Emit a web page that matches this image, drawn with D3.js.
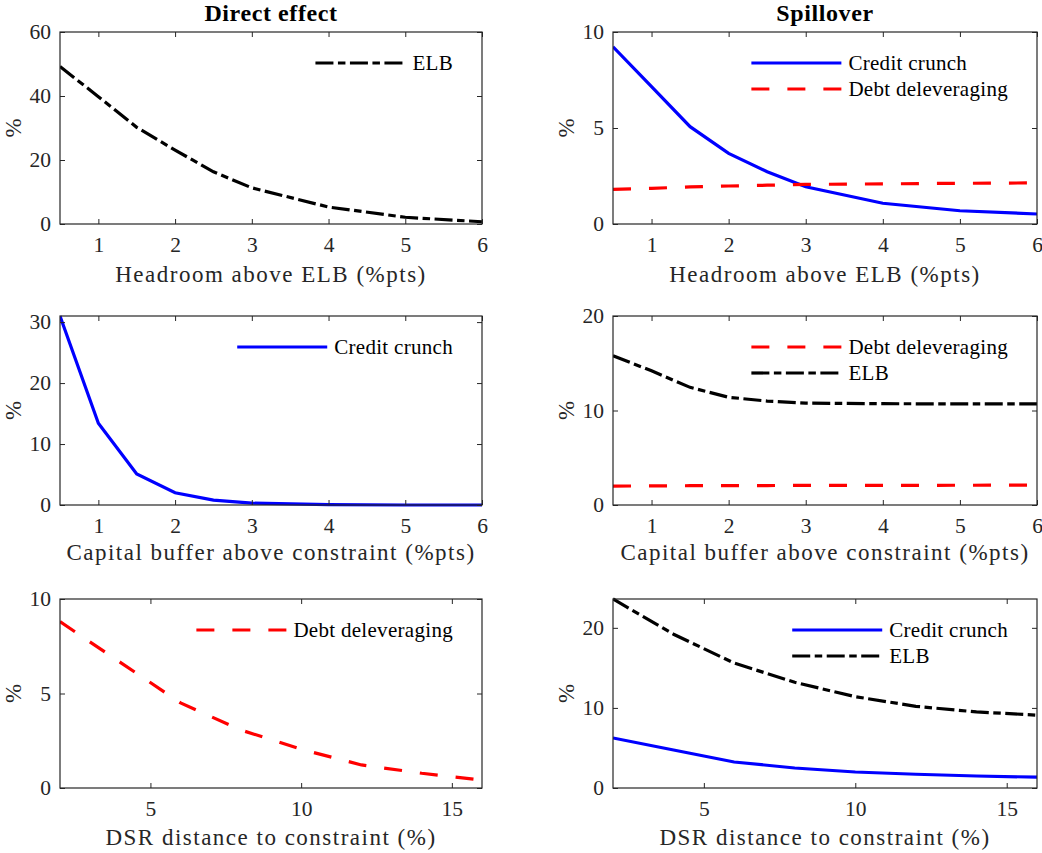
<!DOCTYPE html>
<html>
<head>
<meta charset="UTF-8"/>
<style>
  body { margin: 0; background: #fff; }
</style>
</head>
<body>
<script src="https://cdn.jsdelivr.net/npm/d3@7/dist/d3.min.js"></script>
<script>
// x grids
var headroom = [0.5, 1, 1.5, 2, 2.5, 3, 4, 5, 6];
var buffer   = [0.5, 1, 1.5, 2, 2.5, 3, 4, 5, 6];
var dsr      = [2, 4, 6, 8, 10, 12, 14, 16];

// row 1: headroom above ELB
var elbDirect      = [49.2, 39.8, 30.2, 23.1, 16.3, 11.3, 5.3, 2.1, 0.7];
var crunchSpillH   = [9.23, 7.15, 5.07, 3.68, 2.72, 1.94, 1.08, 0.69, 0.52];
var delevSpillH    = [1.80, 1.86, 1.93, 1.98, 2.02, 2.06, 2.09, 2.12, 2.14];

// row 2: capital buffer
var crunchDirect   = [31, 13.4, 5.1, 2.0, 0.8, 0.3, 0.05, 0.0, 0.0];
var delevSpillB    = [2.0, 2.02, 2.04, 2.05, 2.06, 2.07, 2.08, 2.09, 2.1];
var elbSpillB      = [15.8, 14.2, 12.45, 11.4, 11.0, 10.78, 10.72, 10.7, 10.7];

// row 3: DSR distance
var delevDirect    = [8.8, 6.65, 4.5, 3.07, 2.05, 1.22, 0.78, 0.42];
var elbSpillD      = [23.6, 19.2, 15.6, 13.2, 11.4, 10.2, 9.5, 9.1];
var crunchSpillD   = [6.25, 4.75, 3.25, 2.5, 2.0, 1.72, 1.5, 1.35];

var colTitles = ["Direct effect", "Spillover"];
var xLabels = ["Headroom above ELB (%pts)", "Capital buffer above constraint (%pts)", "DSR distance to constraint (%)"];

var styles = {
  "Credit crunch":     { color: "#0000ff", dash: null },
  "Debt deleveraging": { color: "#ff0000", dash: "18,18" },
  "ELB":               { color: "#000000", dash: "18,4.5,7.5,4.5" }
};

var panels = [
  { col: 0, row: 0, x: headroom, xd: [0.5, 6], yd: [0, 60], yt: [0, 20, 40, 60], xt: [1,2,3,4,5,6],
    series: [["ELB", elbDirect]] },
  { col: 1, row: 0, x: headroom, xd: [0.5, 6], yd: [0, 10], yt: [0, 5, 10], xt: [1,2,3,4,5,6],
    series: [["Credit crunch", crunchSpillH], ["Debt deleveraging", delevSpillH]] },
  { col: 0, row: 1, x: buffer, xd: [0.5, 6], yd: [0, 31], yt: [0, 10, 20, 30], xt: [1,2,3,4,5,6],
    series: [["Credit crunch", crunchDirect]] },
  { col: 1, row: 1, x: buffer, xd: [0.5, 6], yd: [0, 20], yt: [0, 10, 20], xt: [1,2,3,4,5,6],
    series: [["Debt deleveraging", delevSpillB], ["ELB", elbSpillB]] },
  { col: 0, row: 2, x: dsr, xd: [2, 16], yd: [0, 10], yt: [0, 5, 10], xt: [5, 10, 15],
    series: [["Debt deleveraging", delevDirect]] },
  { col: 1, row: 2, x: dsr, xd: [2, 16], yd: [0, 23.6], yt: [0, 10, 20], xt: [5, 10, 15],
    series: [["Credit crunch", crunchSpillD], ["ELB", elbSpillD]] }
];

var colLeft = [60, 613], colRight = [482, 1037];
var rowTop = [32, 316, 599], rowBottom = [224, 505, 788];
var labelGap = [58, 55, 57];
var FONT = "'Liberation Serif', 'Times New Roman', serif";
var INK = "#262626";

var svg = d3.select("body").append("svg")
  .attr("width", 1042)
  .attr("height", 853)
  .style("font-family", FONT);

colTitles.forEach(function(t, i) {
  svg.append("text")
    .attr("x", (colLeft[i] + colRight[i]) / 2)
    .attr("y", 21)
    .attr("text-anchor", "middle")
    .style("font-family", FONT)
    .style("font-size", "24px")
    .style("letter-spacing", "0.6px")
    .style("font-weight", "bold")
    .style("fill", "#000")
    .text(t);
});

panels.forEach(function(p) {
  var L = colLeft[p.col], R = colRight[p.col], T = rowTop[p.row], B = rowBottom[p.row];
  var x = d3.scaleLinear().domain(p.xd).range([L, R]);
  var y = d3.scaleLinear().domain(p.yd).range([B, T]);
  var g = svg.append("g");

  var clipId = "clip" + p.col + p.row;
  svg.append("clipPath").attr("id", clipId)
    .append("rect").attr("x", L).attr("y", T - 2).attr("width", R - L + 2).attr("height", B - T + 4);

  var line = d3.line()
    .x(function(d, i) { return x(p.x[i]); })
    .y(function(d) { return y(d); });

  p.series.forEach(function(s) {
    var st = styles[s[0]];
    g.append("path")
      .attr("clip-path", "url(#" + clipId + ")")
      .attr("d", line(s[1]))
      .attr("fill", "none")
      .attr("stroke", st.color)
      .attr("stroke-width", 3.2)
      .attr("stroke-dasharray", st.dash);
  });

  // inward ticks on all four sides, like a boxed matlab axis
  var tick = 5, fmt = d3.format("d");
  g.append("g").attr("transform", "translate(0," + B + ")")
    .call(d3.axisBottom(x).tickValues(p.xt).tickFormat(fmt).tickSize(-tick).tickPadding(13).tickSizeOuter(0));
  g.append("g").attr("transform", "translate(0," + T + ")")
    .call(d3.axisTop(x).tickValues(p.xt).tickSize(-tick).tickFormat("").tickSizeOuter(0));
  g.append("g").attr("transform", "translate(" + L + ",0)")
    .call(d3.axisLeft(y).tickValues(p.yt).tickFormat(fmt).tickSize(-tick).tickPadding(9).tickSizeOuter(0));
  g.append("g").attr("transform", "translate(" + R + ",0)")
    .call(d3.axisRight(y).tickValues(p.yt).tickSize(-tick).tickFormat("").tickSizeOuter(0));

  g.selectAll(".domain").remove();
  g.selectAll(".tick line").attr("stroke", INK);
  g.selectAll(".tick text")
    .style("font-family", FONT).style("font-size", "21.5px").style("fill", INK);

  g.append("rect")
    .attr("x", L).attr("y", T).attr("width", R - L).attr("height", B - T)
    .attr("fill", "none").attr("stroke", INK).attr("stroke-width", 1.2);

  g.append("text")
    .attr("x", (L + R) / 2)
    .attr("y", B + labelGap[p.row])
    .attr("text-anchor", "middle")
    .style("font-family", FONT).style("font-size", "23px").style("letter-spacing", "1.5px").style("fill", INK)
    .text(xLabels[p.row]);

  g.append("text")
    .attr("transform", "translate(" + (L - 39) + "," + ((T + B) / 2) + ") rotate(-90)")
    .attr("text-anchor", "middle")
    .style("font-family", FONT).style("font-size", "23px").style("fill", INK)
    .text("%");

  // legend top right, no box
  var leg = g.append("g");
  var texts = p.series.map(function(s, i) {
    return leg.append("text")
      .attr("y", T + 31 + i * 26 + 7)
      .style("font-family", FONT).style("font-size", "21px").style("letter-spacing", "0.3px").style("fill", "#000")
      .text(s[0]);
  });
  var maxW = d3.max(texts, function(t) { return t.node().getComputedTextLength(); });
  var textX = R - 29 - maxW;
  texts.forEach(function(t) { t.attr("x", textX); });
  p.series.forEach(function(s, i) {
    var st = styles[s[0]];
    leg.append("line")
      .attr("x1", textX - 97).attr("x2", textX - 7)
      .attr("y1", T + 31 + i * 26).attr("y2", T + 31 + i * 26)
      .attr("stroke", st.color)
      .attr("stroke-width", 3.2)
      .attr("stroke-dasharray", st.dash);
  });
});
</script>
</body>
</html>
